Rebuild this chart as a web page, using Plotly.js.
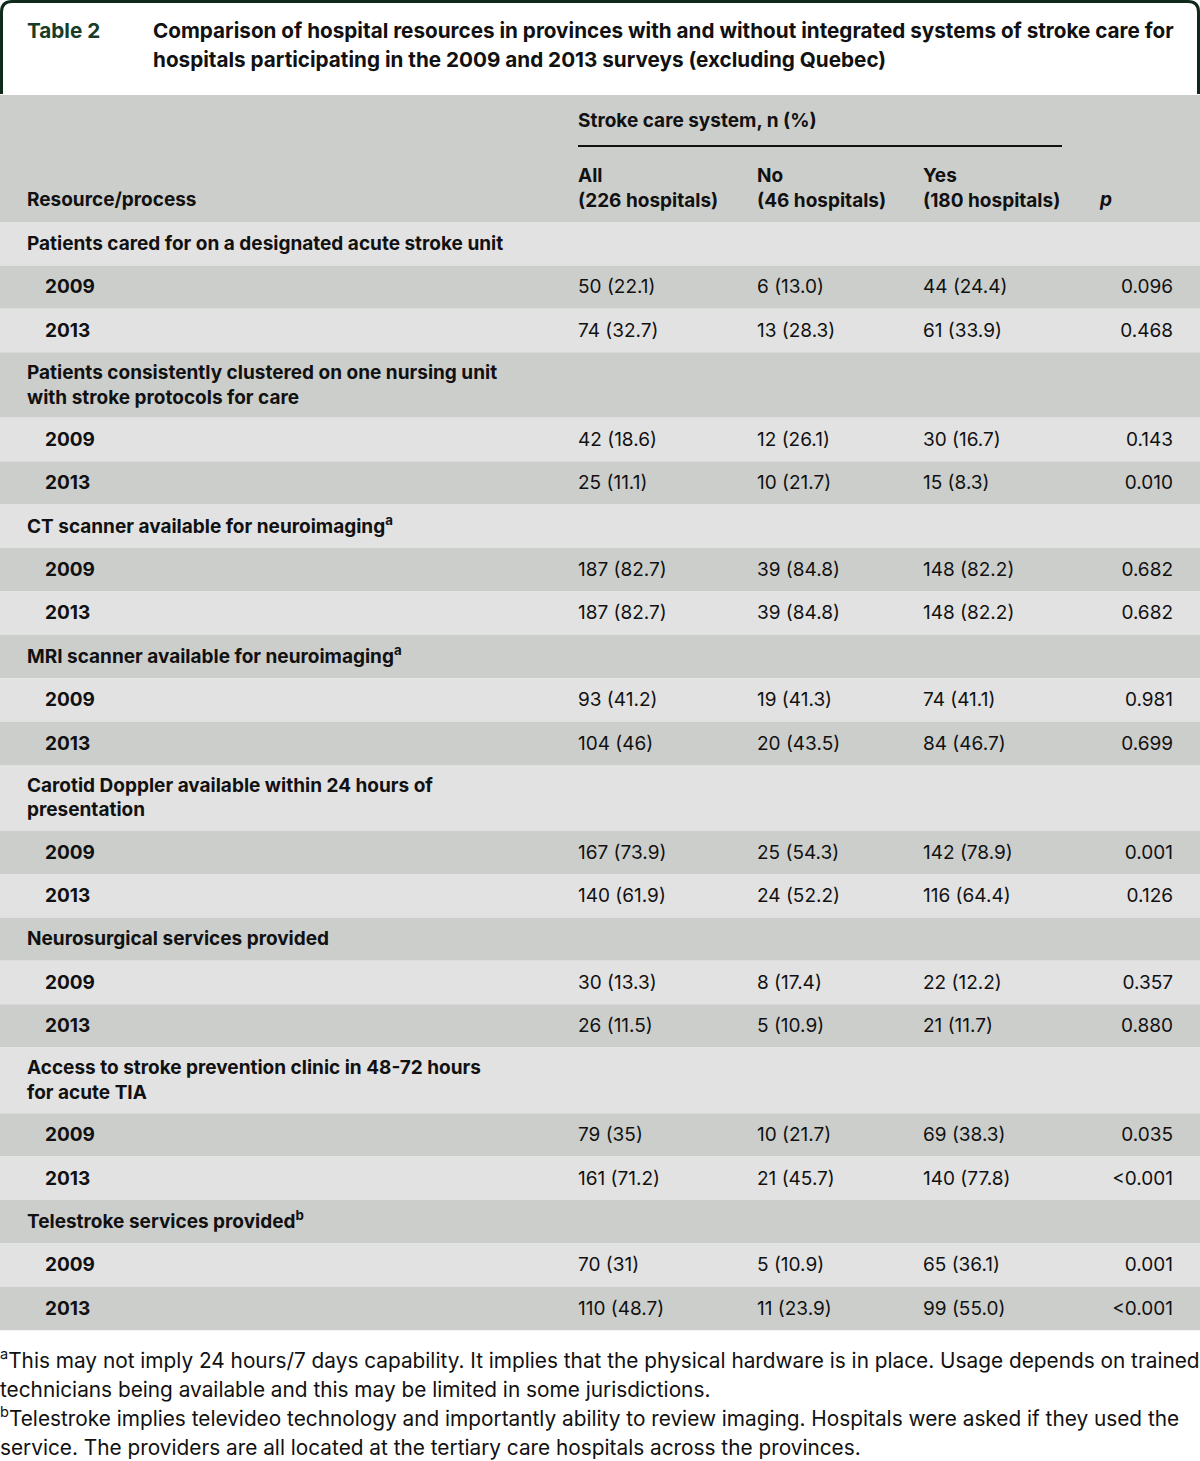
<!DOCTYPE html>
<html>
<head>
<meta charset="utf-8">
<script src="https://cdn.plot.ly/plotly-3.0.1.min.js"></script>
<style>
  html, body { margin: 0; padding: 0; background: #ffffff; }
  #chart { width: 1200px; height: 1461px; }
</style>
</head>
<body>
<div id="chart"></div>
<script>
// table content
const tableLabel = 'Table 2';
const titleLines = [
  'Comparison of hospital resources in provinces with and without integrated systems of stroke care for',
  'hospitals participating in the 2009 and 2013 surveys (excluding Quebec)'
];
const spanHeader = 'Stroke care system, n (%)';
const columnHeaders = ['Resource/process', 'All<br>(226 hospitals)', 'No<br>(46 hospitals)', 'Yes<br>(180 hospitals)', '<i>p</i>'];

const resources = [
  'Patients cared for on a designated acute stroke unit',
  'Patients consistently clustered on one nursing unit<br>with stroke protocols for care',
  'CT scanner available for neuroimaging<sup>a</sup>',
  'MRI scanner available for neuroimaging<sup>a</sup>',
  'Carotid Doppler available within 24 hours of<br>presentation',
  'Neurosurgical services provided',
  'Access to stroke prevention clinic in 48-72 hours<br>for acute TIA',
  'Telestroke services provided<sup>b</sup>'
];
const surveyYears = ['2009', '2013'];

const allHospitals = [
  ['50 (22.1)', '74 (32.7)'], ['42 (18.6)', '25 (11.1)'], ['187 (82.7)', '187 (82.7)'], ['93 (41.2)', '104 (46)'],
  ['167 (73.9)', '140 (61.9)'], ['30 (13.3)', '26 (11.5)'], ['79 (35)', '161 (71.2)'], ['70 (31)', '110 (48.7)']
];
const noSystem = [
  ['6 (13.0)', '13 (28.3)'], ['12 (26.1)', '10 (21.7)'], ['39 (84.8)', '39 (84.8)'], ['19 (41.3)', '20 (43.5)'],
  ['25 (54.3)', '24 (52.2)'], ['8 (17.4)', '5 (10.9)'], ['10 (21.7)', '21 (45.7)'], ['5 (10.9)', '11 (23.9)']
];
const withSystem = [
  ['44 (24.4)', '61 (33.9)'], ['30 (16.7)', '15 (8.3)'], ['148 (82.2)', '148 (82.2)'], ['74 (41.1)', '84 (46.7)'],
  ['142 (78.9)', '116 (64.4)'], ['22 (12.2)', '21 (11.7)'], ['69 (38.3)', '140 (77.8)'], ['65 (36.1)', '99 (55.0)']
];
const pValues = [
  ['0.096', '0.468'], ['0.143', '0.010'], ['0.682', '0.682'], ['0.981', '0.699'],
  ['0.001', '0.126'], ['0.357', '0.880'], ['0.035', '&lt;0.001'], ['0.001', '&lt;0.001']
];

const footnotes = [
  '<sup>a</sup>This may not imply 24 hours/7 days capability. It implies that the physical hardware is in place. Usage depends on trained',
  'technicians being available and this may be limited in some jurisdictions.',
  '<sup>b</sup>Telestroke implies televideo technology and importantly ability to review imaging. Hospitals were asked if they used the',
  'service. The providers are all located at the tertiary care hospitals across the provinces.'
];

// geometry (page is laid out in pixel-like units)
const W = 1200, H = 1461;
const headTop = 95, headHeight = 127;
const rowHeight = 43.4, extraLine = 22.2;
const labelX = 27, yearX = 45;
const colX = [578, 757, 923];
const pRight = 1173;
const nudge = 1.5; // plotly centres text a touch high
const darkFill = '#cccecc', lightFill = '#e2e2e3';
const FONT = 'Inter, Roboto, sans-serif';
const ink = '#111111';
const bodySize = 19, titleSize = 20.7, noteSize = 20.8;

// flatten into table rows
const rows = [];
resources.forEach((name, i) => {
  rows.push({ label: '<b>' + name + '</b>', x: labelX, cells: null, lines: name.split('<br>').length });
  surveyYears.forEach((yr, j) => {
    rows.push({
      label: '<b>' + yr + '</b>', x: yearX,
      cells: [allHospitals[i][j], noSystem[i][j], withSystem[i][j], pValues[i][j]],
      lines: 1
    });
  });
});

let rowTop = headTop + headHeight;
rows.forEach((r, i) => {
  r.top = rowTop;
  r.h = rowHeight + (r.lines - 1) * extraLine;
  r.mid = rowTop + r.h / 2 + nudge;
  r.fill = i % 2 === 0 ? lightFill : darkFill;
  rowTop += r.h;
});
const tableBottom = rowTop;
const dataRows = rows.filter(r => r.cells);

const shapes = [];
shapes.push({ type: 'rect', xref: 'x', yref: 'y', x0: 0, x1: W, y0: headTop, y1: headTop + headHeight,
  fillcolor: darkFill, line: { width: 0 }, layer: 'below' });
rows.forEach(r => {
  shapes.push({ type: 'rect', xref: 'x', yref: 'y', x0: 0, x1: W, y0: r.top, y1: r.top + r.h,
    fillcolor: r.fill, line: { width: 0 }, layer: 'below' });
});
// spanning rule under "Stroke care system"
shapes.push({ type: 'line', xref: 'x', yref: 'y', x0: 578, x1: 1062, y0: 146, y1: 146,
  line: { color: ink, width: 2 } });
// title frame with rounded top corners
shapes.push({ type: 'path', xref: 'x', yref: 'y',
  path: 'M 1.5 94 L 1.5 12 Q 1.5 1.5 12 1.5 L 1188 1.5 Q 1198.5 1.5 1198.5 12 L 1198.5 94',
  line: { color: '#0f2a1b', width: 3 } });

function textTrace(x, y, text, pos, size, color) {
  return {
    type: 'scatter', mode: 'text', x: x, y: y, text: text,
    textposition: pos, hoverinfo: 'skip', showlegend: false,
    textfont: { family: FONT, size: size, color: color || ink }
  };
}

const traces = [];
// title block
traces.push(textTrace([27], [31 + nudge], ['<b>' + tableLabel + '</b>'], 'middle right', titleSize, '#173d27'));
traces.push(textTrace([153, 153], [31 + nudge, 60 + nudge], titleLines.map(t => '<b>' + t + '</b>'), 'middle right', titleSize));
// header
traces.push(textTrace([578], [121 + nudge], ['<b>' + spanHeader + '</b>'], 'middle right', bodySize));
traces.push(textTrace([labelX, colX[0], colX[1], colX[2], 1100], [200, 188.5, 188.5, 188.5, 200].map(v => v + nudge),
  columnHeaders.map(t => '<b>' + t + '</b>'), 'middle right', bodySize));
// body
traces.push(textTrace(rows.map(r => r.x), rows.map(r => r.mid), rows.map(r => r.label), 'middle right', bodySize));
for (let c = 0; c < 3; c++) {
  traces.push(textTrace(dataRows.map(() => colX[c]), dataRows.map(r => r.mid), dataRows.map(r => r.cells[c]), 'middle right', bodySize));
}
traces.push(textTrace(dataRows.map(() => pRight), dataRows.map(r => r.mid), dataRows.map(r => r.cells[3]), 'middle left', bodySize));
// footnotes
traces.push(textTrace(footnotes.map(() => 0), footnotes.map((f, i) => tableBottom + 31 + nudge + i * 29), footnotes, 'middle right', noteSize));

const layout = {
  width: W, height: H,
  margin: { l: 0, r: 0, t: 0, b: 0 },
  paper_bgcolor: '#ffffff', plot_bgcolor: '#ffffff',
  xaxis: { range: [0, W], visible: false, fixedrange: true },
  yaxis: { range: [H, 0], visible: false, fixedrange: true },
  shapes: shapes,
  showlegend: false
};

Plotly.newPlot('chart', traces, layout, { staticPlot: true });
</script>
</body>
</html>
